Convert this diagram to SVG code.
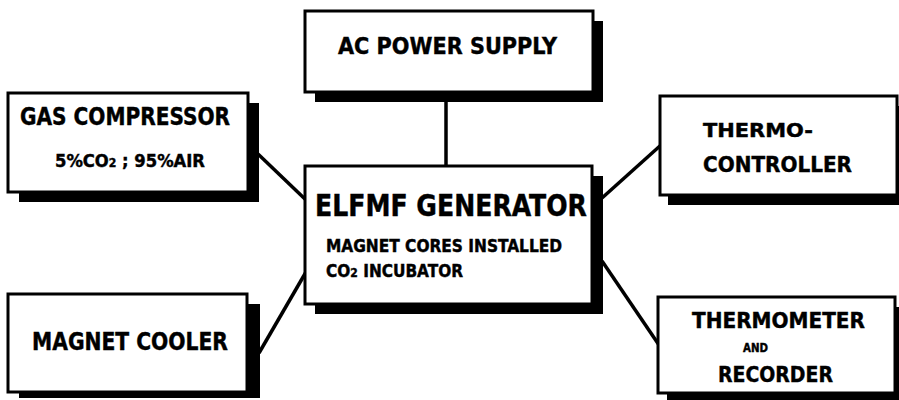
<svg xmlns="http://www.w3.org/2000/svg" width="899" height="400" viewBox="0 0 899 400">
<style>
.box{fill:#fff;stroke:#000;stroke-width:3}
.sh{fill:#000}
.ln{stroke:#000;stroke-width:3.5;fill:none}
text{font-family:"DejaVu Sans Condensed","DejaVu Sans",sans-serif;font-weight:bold;fill:#000;stroke:#000;stroke-width:0.4}
</style>
<rect width="899" height="400" fill="#fff"/>
<g id="connectors">
<line class="ln" x1="446" y1="100" x2="446" y2="166"/>
<line class="ln" x1="258" y1="154" x2="306" y2="200"/>
<line class="ln" x1="661" y1="145" x2="602" y2="198"/>
<line class="ln" x1="259" y1="353" x2="306" y2="272"/>
<line class="ln" x1="602" y1="261" x2="659" y2="345"/>
</g>
<g id="ac-power-supply">
<rect class="sh" x="315" y="21" width="288" height="81"/>
<rect class="box" x="305" y="11" width="288" height="81"/>
<text x="338" y="54" font-size="23" textLength="219" lengthAdjust="spacingAndGlyphs">AC POWER SUPPLY</text>
</g>
<g id="gas-compressor">
<rect class="sh" x="19" y="103" width="240" height="99"/>
<rect class="box" x="8" y="93" width="240" height="99"/>
<text x="20" y="125" font-size="24" textLength="210" lengthAdjust="spacingAndGlyphs">GAS COMPRESSOR</text>
<text x="55" y="167" font-size="18" textLength="150" lengthAdjust="spacingAndGlyphs">5%CO<tspan font-size="12">2</tspan> ; 95%AIR</text>
</g>
<g id="elfmf-generator">
<rect class="sh" x="315" y="176" width="288" height="138"/>
<rect class="box" x="305" y="166" width="287" height="138"/>
<text x="315" y="216" font-size="30" textLength="272" lengthAdjust="spacingAndGlyphs">ELFMF GENERATOR</text>
<text x="326" y="252" font-size="17" textLength="236" lengthAdjust="spacingAndGlyphs">MAGNET CORES INSTALLED</text>
<text x="326" y="277" font-size="17" textLength="137" lengthAdjust="spacingAndGlyphs">CO<tspan font-size="12">2</tspan> INCUBATOR</text>
</g>
<g id="thermo-controller">
<rect class="sh" x="668" y="106" width="240" height="99"/>
<rect class="box" x="660" y="96" width="237" height="99"/>
<text x="703" y="137" font-size="20" textLength="110" lengthAdjust="spacingAndGlyphs">THERMO-</text>
<text x="703" y="172" font-size="21" textLength="149" lengthAdjust="spacingAndGlyphs">CONTROLLER</text>
</g>
<g id="magnet-cooler">
<rect class="sh" x="19" y="304" width="241" height="94"/>
<rect class="box" x="8" y="294" width="239" height="98"/>
<text x="32" y="350" font-size="24" textLength="196" lengthAdjust="spacingAndGlyphs">MAGNET COOLER</text>
</g>
<g id="thermometer-recorder">
<rect class="sh" x="667" y="307" width="240" height="100"/>
<rect class="box" x="658" y="297" width="237" height="96"/>
<text x="692" y="328" font-size="22" textLength="173" lengthAdjust="spacingAndGlyphs">THERMOMETER</text>
<text x="743" y="352" font-size="11.5" textLength="25" lengthAdjust="spacingAndGlyphs">AND</text>
<text x="718" y="382" font-size="21" textLength="115" lengthAdjust="spacingAndGlyphs">RECORDER</text>
</g>
</svg>
